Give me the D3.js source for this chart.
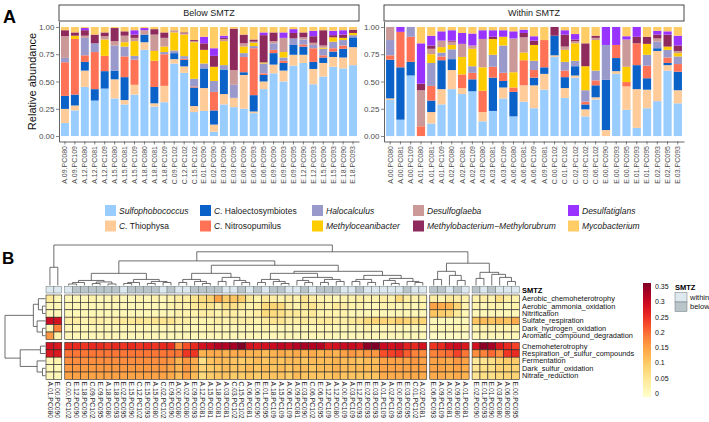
<!DOCTYPE html>
<html lang="en">
<head>
<meta charset="UTF-8">
<title>SMTZ community and function</title>
<script src="https://cdn.jsdelivr.net/npm/d3@7"></script>
<style>
  body { margin: 0; background: #fff; }
  svg { font-family: "Liberation Sans", Arial, sans-serif; }
</style>
</head>
<body>
<script>
// ---------------- panel A data ----------------
const belowSamples = ["A.09.PC080","A.09.PC109","A.12.PC080","A.12.PC081","A.12.PC109","A.15.PC080","A.15.PC081","A.15.PC109","A.18.PC080","A.18.PC081","A.18.PC109","C.09.PC102","C.12.PC102","C.15.PC102","E.01.PC090","E.02.PC090","E.03.PC090","E.03.PC095","E.06.PC090","E.06.PC093","E.06.PC095","E.09.PC090","E.09.PC093","E.09.PC095","E.12.PC090","E.12.PC093","E.15.PC090","E.15.PC093","E.18.PC090","E.18.PC093"];
const withinSamples = ["A.00.PC080","A.00.PC081","A.00.PC109","A.01.PC080","A.01.PC081","A.01.PC109","A.02.PC080","A.02.PC081","A.02.PC109","A.03.PC080","A.03.PC081","A.03.PC109","A.06.PC080","A.06.PC081","A.06.PC109","A.09.PC081","C.00.PC102","C.01.PC102","C.02.PC102","C.03.PC102","C.06.PC102","E.00.PC090","E.00.PC093","E.00.PC095","E.01.PC093","E.01.PC095","E.02.PC093","E.02.PC095","E.03.PC093"];

// stacking order bottom -> top (= legend order, by column)
const taxa = ["Sulfophobococcus","C. Thiophysa","C. Haloectosymbiotes","C. Nitrosopumilus","Halocalculus","Methyloceanibacter","Desulfoglaeba","Methylobacterium\u2212Methylorubrum","Desulfatiglans","Mycobacterium"];
const taxonColours = ["#99ccff","#ffcc99","#0a62c9","#ff7256","#9999cc","#ffcc00","#cc9999","#8e2b5c","#9933ff","#ffcc66"];

// relative abundance per sample: 30 below SMTZ followed by 29 within SMTZ
const sulfophobococcus = [0.12,0.235,0.45,0.325,0.435,0.345,0.29,0.38,0.79,0.27,0.31,0.665,0.585,0.22,0.23,0.04,0.29,0.265,0.25,0.21,0.43,0.575,0.50,0.645,0.67,0.475,0.545,0.635,0.62,0.65,
  0.33,0.15,0.555,0,0.115,0.29,0.43,0.385,0.41,0.135,0.23,0.345,0.18,0.315,0.255,0.425,0.725,0.35,0.535,0.18,0.335,0,0.57,0.24,0.075,0.255,0.32,0.60,0.30];
const thiophysa = [0.13,0.045,0.15,0,0,0.175,0.04,0.09,0.07,0.03,0.15,0.04,0.06,0.055,0.21,0.065,0.095,0.085,0.31,0.015,0.07,0.08,0.10,0.10,0.075,0.14,0.125,0.09,0.10,0.165,
  0.015,0,0,0,0.105,0.14,0.175,0.055,0,0.085,0,0.10,0,0.15,0.21,0.145,0.015,0.09,0.02,0.065,0.02,0.055,0.025,0.215,0.355,0.17,0.46,0.05,0.12];
const haloectosymbiotes = [0.12,0.10,0.08,0.105,0.16,0.08,0.21,0,0.07,0.15,0,0.055,0.06,0.17,0.18,0.13,0.225,0,0.025,0.15,0.06,0.105,0.07,0.09,0.075,0.065,0.05,0.05,0.08,0.09,
  0.355,0.48,0.125,0,0.105,0.265,0.10,0,0.11,0,0.305,0.06,0.225,0,0.07,0.06,0.18,0.10,0.085,0.045,0.11,0.46,0.12,0,0.22,0.105,0.025,0.02,0.17];
const nitrosopumilus = [0.31,0.51,0.06,0.34,0.14,0,0.19,0.23,0,0.24,0.29,0,0.01,0.01,0,0.17,0,0,0.14,0.43,0.015,0.03,0.02,0,0.02,0.125,0.02,0.03,0.03,0,
  0.04,0.325,0.23,0.09,0.135,0.035,0,0.125,0.06,0.195,0.10,0.075,0.04,0.23,0.07,0.25,0,0.06,0,0.025,0.045,0,0.12,0.04,0.20,0.115,0,0.05,0.07];
const halocalculus = [0.04,0,0.16,0.08,0,0.23,0.09,0.035,0,0,0.02,0.025,0.025,0.07,0.045,0.10,0.04,0.12,0.035,0.02,0.09,0.06,0.03,0.06,0.045,0.03,0.06,0.06,0.05,0.02,
  0.14,0,0.09,0,0.21,0.035,0.09,0,0.06,0,0.11,0.25,0,0,0.085,0,0,0.08,0.05,0.105,0.09,0.32,0,0,0,0.10,0.06,0.07,0.07];
const methyloceanibacter = [0,0.03,0,0,0.15,0,0.04,0.135,0,0.09,0.05,0.165,0.20,0.335,0.125,0.13,0.22,0,0.06,0.03,0.01,0,0.05,0,0,0,0.01,0.04,0.02,0.02,
  0,0,0,0,0.08,0.05,0.04,0.16,0.16,0.215,0.145,0.08,0.14,0.07,0.145,0,0,0.11,0.16,0.22,0.28,0,0,0.14,0,0.10,0,0.03,0.03];
const desulfoglaeba = [0.20,0,0.02,0,0.03,0.04,0.06,0.03,0.04,0.15,0.08,0.02,0.01,0.01,0,0,0.02,0.135,0.03,0.01,0,0.02,0.13,0,0.02,0.02,0.02,0,0,0,
  0.12,0,0,0.33,0.05,0.06,0.03,0.12,0.03,0.26,0,0,0.31,0.14,0,0,0,0.03,0.02,0,0.02,0,0,0.25,0,0,0.03,0,0.02];
const methylobacterium = [0.055,0.03,0.05,0.08,0.035,0.12,0.04,0.03,0,0.05,0.05,0,0.01,0.01,0.06,0.10,0.01,0.38,0.08,0.02,0.25,0.08,0,0.05,0.045,0.06,0.14,0.02,0.03,0.03,
  0,0,0,0.06,0.03,0,0.01,0,0,0,0.02,0,0,0.04,0.04,0,0.08,0.11,0.015,0.21,0.02,0,0,0,0.06,0.065,0.035,0.11,0.05];
const desulfatiglans = [0,0,0.02,0,0,0,0,0.04,0.02,0,0,0,0,0,0.06,0.07,0.02,0,0,0,0.025,0,0.05,0.035,0,0.05,0,0.04,0.04,0,
  0,0.045,0,0.37,0.09,0.085,0.095,0.10,0.11,0.08,0.06,0.06,0.065,0.03,0.04,0,0,0.04,0.05,0,0,0.165,0.165,0.03,0.09,0,0.035,0.03,0.09];
const mycobacterium = [0.03,0.05,0.01,0.07,0.05,0.01,0.04,0.03,0.01,0.02,0.05,0.03,0.05,0.12,0.09,0.195,0.08,0.015,0.07,0.115,0.05,0.05,0.05,0.02,0.05,0.035,0.03,0.035,0.03,0.025,
  0,0,0,0.15,0.08,0.04,0.03,0.055,0.06,0.03,0.03,0.03,0.04,0.025,0.085,0.12,0,0.03,0.065,0.15,0.08,0,0,0.085,0,0.09,0.035,0.04,0.08];
const yTicks = [0, 0.25, 0.5, 0.75, 1];

// ---------------- panel B data ----------------
const colOrder = ["A.01.PC080","E.00.PC090",
  "C.00.PC102","E.12.PC090","E.18.PC090","C.09.PC102","E.09.PC095","A.18.PC080","E.18.PC093","E.02.PC095","E.15.PC090","C.12.PC102","E.15.PC093","A.15.PC080","C.02.PC102","E.09.PC090","A.00.PC080","A.02.PC080","E.09.PC093","A.12.PC081","A.15.PC081","A.18.PC081","A.03.PC081","C.03.PC102","C.15.PC102","A.06.PC081","E.06.PC090","E.01.PC095","A.18.PC109","A.15.PC109","A.06.PC109","A.09.PC081","E.03.PC090","C.06.PC102","E.06.PC095","A.12.PC109","A.12.PC080","A.00.PC109","A.03.PC109","E.12.PC093","E.02.PC093","E.03.PC093","A.01.PC109","A.02.PC109","E.00.PC093","E.03.PC095","C.01.PC102","A.02.PC081",
  "E.06.PC093","A.09.PC109","A.00.PC081","A.09.PC080","A.01.PC081",
  "E.02.PC090","E.01.PC093","E.01.PC090","A.03.PC080","A.06.PC080","E.00.PC095"];
const colSplits = [2, 46, 5, 6];
const functions = ["Aerobic_chemoheterotrophy","Aerobic_ammonia_oxidation","Nitrification","Sulfate_respiration","Dark_hydrogen_oxidation","Aromatic_compound_degradation","Chemoheterotrophy","Respiration_of_sulfur_compounds","Fermentation","Dark_sulfur_oxidation","Nitrate_reduction"];
const rowSplits = [6, 5];

const aerobicChemoheterotrophy = [.05,.02, .02,.02,.02,.03,.02,.02,.03,.02, .02,.03,.02,.03,.02,.03,.04,.04, .06,.08,.09,.15,.10,.11,.10,.05, .03,.05,.04,.03,.04,.03,.06,.04, .03,.03,.02,.03,.03,.04,.03,.03, .04,.03,.08,.04,.03,.03, .04,.03,.05,.04,.03, .03,.04,.03,.07,.04,.03];
const aerobicAmmoniaOxidation = [.02,.02, .02,.02,.02,.02,.02,.02,.02,.02, .02,.02,.02,.02,.02,.03,.03,.03, .05,.06,.06,.04,.07,.07,.05,.03, .04,.08,.09,.08,.04,.03,.05,.06, .04,.03,.05,.04,.03,.03,.02,.02, .03,.03,.02,.03,.02,.03, .15,.14,.13,.09,.03, .03,.02,.03,.03,.02,.03];
const nitrification = [.02,.02, .02,.02,.02,.02,.02,.02,.02,.02, .02,.02,.02,.02,.02,.02,.03,.03, .03,.04,.04,.03,.04,.04,.03,.03, .04,.08,.08,.07,.05,.05,.04,.05, .03,.03,.03,.03,.02,.02,.02,.02, .02,.02,.02,.02,.02,.02, .11,.10,.09,.05,.02, .02,.02,.02,.02,.02,.02];
const sulfateRespiration = [.29,.28, .04,.04,.03,.04,.04,.03,.04,.05, .05,.06,.05,.06,.06,.06,.04,.04, .03,.03,.03,.04,.03,.04,.04,.04, .03,.05,.06,.06,.04,.04,.05,.04, .05,.05,.04,.04,.05,.06,.08,.09, .09,.08,.10,.09,.08,.09, .02,.02,.02,.02,.02, .11,.12,.11,.12,.11,.14];
const darkHydrogenOxidation = [.02,.18, .02,.02,.02,.02,.02,.02,.02,.02, .02,.02,.02,.02,.02,.02,.02,.02, .02,.02,.03,.02,.02,.02,.02,.02, .02,.03,.02,.02,.02,.02,.02,.02, .02,.02,.02,.02,.02,.02,.03,.02, .02,.02,.02,.02,.02,.02, .02,.02,.02,.02,.02, .03,.03,.03,.03,.03,.03];
const aromaticDegradation = [.16,.03, .02,.02,.02,.02,.02,.02,.02,.02, .02,.02,.02,.02,.02,.02,.02,.02, .02,.02,.02,.02,.02,.02,.02,.02, .02,.02,.02,.02,.02,.02,.02,.02, .02,.02,.02,.02,.02,.02,.02,.02, .02,.02,.02,.02,.02,.02, .01,.01,.01,.01,.01, .02,.02,.02,.02,.02,.02];
const chemoheterotrophy = [.28,.27, .25,.25,.24,.25,.25,.24,.25,.24, .25,.24,.25,.24,.25,.25,.17,.22, .25,.28,.29,.31,.31,.32,.35,.28, .27,.28,.29,.30,.29,.31,.32,.31, .31,.27,.28,.29,.29,.28,.34,.35, .29,.28,.29,.26,.25,.28, .24,.25,.28,.29,.27, .28,.34,.32,.27,.25,.23];
const respirationSulfur = [.27,.27, .19,.19,.19,.19,.19,.19,.19,.19, .19,.19,.19,.19,.19,.19,.19,.24, .24,.13,.14,.14,.13,.14,.14,.13, .13,.12,.13,.14,.13,.14,.13,.14, .13,.14,.13,.15,.16,.15,.16,.16, .22,.23,.24,.21,.18,.17, .18,.19,.20,.23,.19, .17,.18,.20,.17,.24,.25];
const fermentation = [.02,.03, .17,.17,.17,.17,.17,.17,.17,.17, .17,.17,.17,.17,.17,.16,.13,.16, .14,.07,.11,.12,.12,.11,.10,.11, .12,.11,.12,.11,.12,.12,.11,.12, .12,.12,.13,.12,.12,.11,.12,.12, .15,.15,.15,.15,.16,.15, .15,.15,.14,.16,.15, .05,.06,.07,.09,.10,.10];
const darkSulfurOxidation = [.02,.02, .16,.16,.16,.16,.16,.16,.16,.16, .16,.16,.16,.16,.16,.15,.13,.16, .13,.09,.10,.11,.12,.11,.11,.12, .11,.12,.11,.12,.11,.12,.12,.11, .12,.12,.13,.12,.12,.12,.12,.12, .15,.15,.15,.15,.15,.15, .15,.15,.14,.15,.14, .06,.07,.07,.09,.09,.09];
const nitrateReduction = [.02,.02, .15,.15,.15,.15,.15,.15,.15,.15, .15,.15,.15,.15,.15,.14,.12,.15, .12,.08,.10,.11,.11,.10,.10,.11, .10,.11,.11,.11,.10,.12,.11,.11, .11,.11,.12,.11,.11,.11,.11,.11, .14,.14,.14,.14,.14,.14, .14,.14,.13,.14,.13, .06,.07,.07,.08,.09,.09];
const legendBreaks = [0, 0.05, 0.1, 0.15, 0.2, 0.25, 0.3, 0.35];

// dendrograms: [height, child, child], leaves are column / row indices
const colTree = [40,
  [18, 0, 1],
  [33.3,
    [24.3,
      [12,
        [5, [3, [1.5, 2, 3], 4], [3.5, [2, 5, 6], [1.5, 7, 8]]],
        [6, [3, [2, 9, 10], 11], [4, [2, 12, 13], [3, 14, 15]]]],
      [20,
        [12, [6, [3, 16, 17], [4, 18, [2, 19, 20]]], [8, [4, 21, 22], [5, 23, [3, 24, 25]]]],
        [14,
          [12, [6, [3, 26, 27], [4, 28, [2, 29, 30]]], [8, [5, 31, [3, 32, 33]], [6, [3, 34, 35], [4, 36, 37]]]],
          [10, [6, [4, 38, 39], [3, 40, 41]], [7, [5, 42, [2, 43, 44]], [4, 45, [3, 46, 47]]]]]]],
    [22,
      [14, [6, 48, 49], [10, 50, [5, 51, 52]]],
      [13, [7, 53, 54], [11, 55, [8, 56, [4, 57, 58]]]]]]];
const rowTree = [40,
  [12, [7, 0, [3, 1, 2]], [8.3, 3, [3, 4, 5]]],
  [25, [5, 6, 7], [8.3, 8, [3, 9, 10]]]];

// ---------------- drawing ----------------
const svg = d3.select('body').append('svg').attr('width', 709).attr('height', 422);

svg.append('text').attr('x', 3).attr('y', 23).attr('font-size', 18).attr('font-weight', 'bold').text('A');
svg.append('text').attr('x', 2).attr('y', 264).attr('font-size', 17).attr('font-weight', 'bold').text('B');

// panel A: stacked bars
const series = [sulfophobococcus, thiophysa, haloectosymbiotes, nitrosopumilus, halocalculus,
  methyloceanibacter, desulfoglaeba, methylobacterium, desulfatiglans, mycobacterium];
const samples = belowSamples.concat(withinSamples);
const rows = samples.map((s, i) => {
  const r = { sample: s };
  taxa.forEach((t, k) => r[t] = series[k][i]);
  return r;
});
const stacked = d3.stack().keys(taxa).offset(d3.stackOffsetExpand)(rows);
const colour = d3.scaleOrdinal().domain(taxa).range(taxonColours);
const y = d3.scaleLinear().domain([-0.05, 1.05]).range([141.5, 21.5]);

const facets = [
  { label: 'Below SMTZ', samples: belowSamples, x0: 59, x1: 359 },
  { label: 'Within SMTZ', samples: withinSamples, x0: 384, x1: 684 }
];

facets.forEach(f => {
  const x = d3.scaleBand().domain(f.samples).range([f.x0, f.x1]).paddingInner(0.2).paddingOuter(0.2);
  const g = svg.append('g');

  g.append('rect').attr('x', f.x0).attr('y', 5).attr('width', f.x1 - f.x0).attr('height', 16)
    .attr('fill', '#fff').attr('stroke', '#333').attr('stroke-width', 0.9);
  g.append('text').attr('x', (f.x0 + f.x1) / 2).attr('y', 16.3).attr('text-anchor', 'middle')
    .attr('font-size', 9).attr('fill', '#1a1a1a').text(f.label);

  stacked.forEach(layer => {
    g.append('g').selectAll('rect')
      .data(layer.filter(d => f.samples.includes(d.data.sample)))
      .join('rect')
      .attr('x', d => x(d.data.sample))
      .attr('width', x.bandwidth())
      .attr('y', d => y(d[1]))
      .attr('height', d => y(d[0]) - y(d[1]))
      .attr('fill', colour(layer.key));
  });

  const ya = g.append('g').attr('transform', `translate(${f.x0},0)`)
    .call(d3.axisLeft(y).tickValues(yTicks).tickFormat(d3.format('.2f')).tickSize(3).tickSizeOuter(0));
  const xa = g.append('g').attr('transform', `translate(0,${y.range()[0]})`)
    .call(d3.axisBottom(x).tickSize(3).tickSizeOuter(0));
  [ya, xa].forEach(a => {
    a.select('.domain').attr('stroke', '#222').attr('stroke-width', 0.7);
    a.selectAll('.tick line').attr('stroke', '#333').attr('stroke-width', 0.6);
    a.selectAll('text').attr('fill', '#4d4d4d').attr('font-family', '"Liberation Sans", Arial, sans-serif');
  });
  ya.selectAll('text').attr('font-size', 8).attr('x', -4.5);
  xa.selectAll('text').attr('font-size', 7)
    .attr('transform', 'rotate(-90)').attr('text-anchor', 'end')
    .attr('x', -4.5).attr('y', 0).attr('dy', '0.35em');
});

svg.append('text').attr('transform', 'translate(36,81.5) rotate(-90)').attr('text-anchor', 'middle')
  .attr('font-size', 11).attr('fill', '#111').text('Relative abundance');

// legend, filled column by column in two rows
const legX = [105, 200, 312, 413, 568];
const legY = [205, 220.5];
const leg = svg.append('g');
taxa.forEach((t, i) => {
  const lx = legX[Math.floor(i / 2)], ly = legY[i % 2];
  leg.append('rect').attr('x', lx).attr('y', ly).attr('width', 11).attr('height', 11).attr('fill', colour(t));
  const txt = leg.append('text').attr('x', lx + 14).attr('y', ly + 8.6).attr('font-size', 8.5).attr('fill', '#1a1a1a');
  if (t.startsWith('C. ')) {
    txt.append('tspan').attr('font-style', 'italic').text('C.');
    txt.append('tspan').text(' ' + t.slice(3));
  } else {
    txt.attr('font-style', 'italic').text(t);
  }
});

// panel B: heatmap
const matrix = [aerobicChemoheterotrophy, aerobicAmmoniaOxidation, nitrification, sulfateRespiration,
  darkHydrogenOxidation, aromaticDegradation, chemoheterotrophy, respirationSulfur, fermentation,
  darkSulfurOxidation, nitrateReduction];
const heat = d3.scaleSequential(d3.interpolateYlOrRd).domain([0, 0.35]).clamp(true);
const cw = 7.87, rh = 7.4, hx0 = 46, hy0 = 295, gapX = 3, gapY = 3;

// one band scale per column slice, one per row slice
const colX = [];
let cx = hx0, ci = 0;
colSplits.forEach(n => {
  const idx = d3.range(ci, ci + n);
  const sc = d3.scaleBand().domain(idx).range([cx, cx + n * cw]);
  idx.forEach(i => colX[i] = sc);
  cx += n * cw + gapX; ci += n;
});
const rowY = [];
let ry = hy0, ri = 0;
rowSplits.forEach(n => {
  const idx = d3.range(ri, ri + n);
  const sc = d3.scaleBand().domain(idx).range([ry, ry + n * rh]);
  idx.forEach(i => rowY[i] = sc);
  ry += n * rh + gapY; ri += n;
});
const xOf = i => colX[i](i), yOf = r => rowY[r](r);

const cells = [];
matrix.forEach((vals, r) => vals.forEach((v, c) => cells.push({ r, c, v })));
svg.append('g').selectAll('rect').data(cells).join('rect')
  .attr('x', d => xOf(d.c)).attr('y', d => yOf(d.r))
  .attr('width', cw).attr('height', rh)
  .attr('fill', d => heat(d.v)).attr('stroke', '#2b2b2b').attr('stroke-width', 0.6);

// SMTZ annotation
const smtzColour = { within: '#dde9ee', below: '#b9c5c9' };
svg.append('g').selectAll('rect').data(colOrder).join('rect')
  .attr('x', (d, i) => xOf(i)).attr('y', 286.5).attr('width', cw).attr('height', 6.5)
  .attr('fill', d => withinSamples.includes(d) ? smtzColour.within : smtzColour.below)
  .attr('stroke', '#6b7578').attr('stroke-width', 0.5);
svg.append('text').attr('x', 522).attr('y', 292.5).attr('font-size', 7.5).attr('font-weight', 'bold').text('SMTZ');

// column labels
svg.append('g').selectAll('text').data(colOrder).join('text')
  .attr('transform', (d, i) => `translate(${xOf(i) + cw / 2},381.5) rotate(90)`)
  .attr('dy', '0.35em').attr('font-size', 6.8).attr('fill', '#222').text(d => d);

// row labels
svg.append('g').selectAll('text').data(functions).join('text')
  .attr('x', 522).attr('y', (d, r) => yOf(r) + rh / 2).attr('dy', '0.35em')
  .attr('font-size', 7.4).attr('fill', '#111').text(d => d);

// dendrograms
function drawTree(tree, leafPos, hScale, vertical) {
  const root = d3.hierarchy(tree, d => Array.isArray(d) ? d.slice(1) : null);
  root.eachAfter(n => {
    if (!n.children) { n.p = leafPos(n.data); n.h = hScale(0); }
    else { n.p = (n.children[0].p + n.children[n.children.length - 1].p) / 2; n.h = hScale(n.data[0]); }
  });
  const paths = root.descendants().filter(n => n.children).map(n => {
    const a = n.children[0], b = n.children[n.children.length - 1];
    return vertical
      ? `M${a.p},${a.h}V${n.h}H${b.p}V${b.h}`
      : `M${a.h},${a.p}H${n.h}V${b.p}H${b.h}`;
  });
  svg.append('g').selectAll('path').data(paths).join('path')
    .attr('d', d => d).attr('fill', 'none').attr('stroke', '#4a4a4a').attr('stroke-width', 0.8);
}
drawTree(colTree, i => xOf(i) + cw / 2, d3.scaleLinear().domain([0, 40]).range([285.5, 245]), true);
drawTree(rowTree, r => yOf(r) + rh / 2, d3.scaleLinear().domain([0, 40]).range([45.5, 5]), false);

// colour legend
const lg = svg.append('defs').append('linearGradient').attr('id', 'heatGrad')
  .attr('x1', 0).attr('y1', 1).attr('x2', 0).attr('y2', 0);
d3.range(0, 1.0001, 0.05).forEach(t => lg.append('stop').attr('offset', t).attr('stop-color', heat(t * 0.35)));
const ly = d3.scaleLinear().domain([0, 0.35]).range([393.5, 286.5]);
svg.append('rect').attr('x', 643).attr('y', 283).attr('width', 8).attr('height', 114).attr('fill', 'url(#heatGrad)');
svg.append('g').selectAll('text').data(legendBreaks).join('text')
  .attr('x', 655).attr('y', d => ly(d)).attr('dy', '0.35em').attr('font-size', 7).attr('fill', '#111')
  .text(d => d3.format('~g')(d));

// SMTZ legend
svg.append('text').attr('x', 675).attr('y', 289.5).attr('font-size', 7.5).attr('font-weight', 'bold').text('SMTZ');
['within', 'below'].forEach((k, i) => {
  svg.append('rect').attr('x', 675).attr('y', 292.5 + i * 9.5).attr('width', 12).attr('height', 9.5)
    .attr('fill', smtzColour[k]).attr('stroke', '#6b7578').attr('stroke-width', 0.5);
  svg.append('text').attr('x', 690).attr('y', 297.3 + i * 9.5).attr('dy', '0.35em')
    .attr('font-size', 7.5).attr('fill', '#111').text(k);
});
</script>
</body>
</html>
